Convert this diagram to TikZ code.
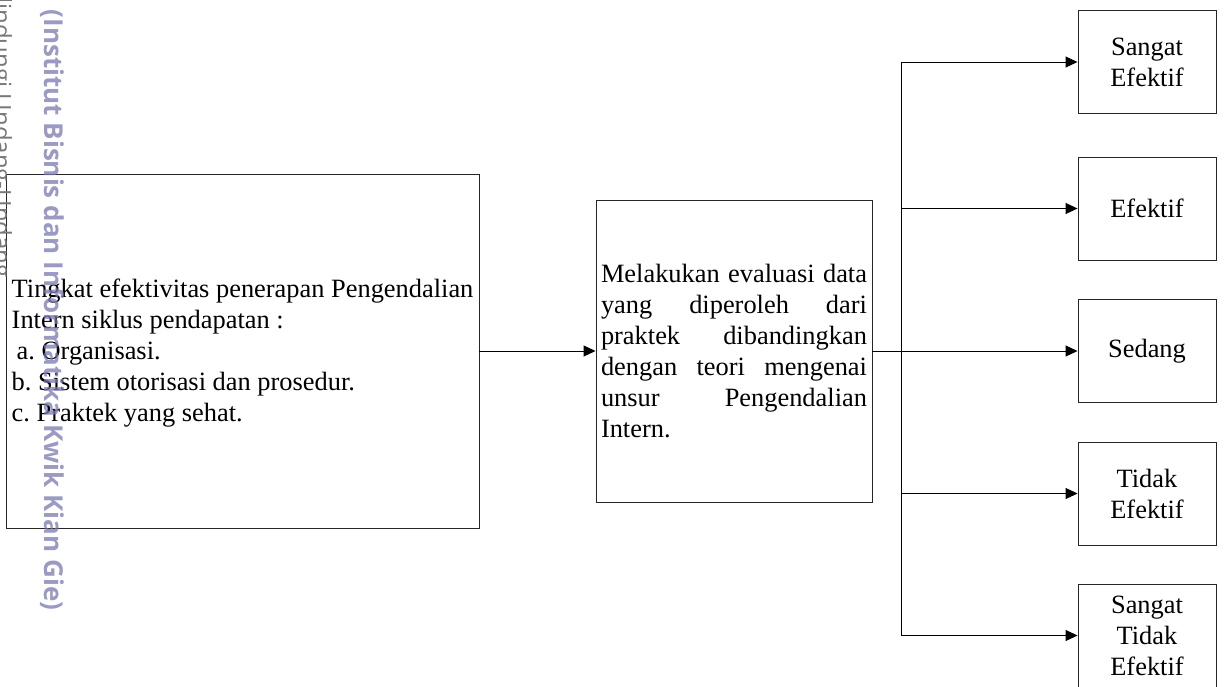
\documentclass[tikz,border=0pt]{standalone}
\usepackage{fontspec}
\setmainfont{Liberation Serif}
\newfontfamily\wmfont{Open Sans}
\usetikzlibrary{arrows.meta}
\definecolor{wmpurple}{RGB}{120,120,175}
\definecolor{wmgrey}{RGB}{120,120,120}
\frenchspacing
\begin{document}
\begin{tikzpicture}[x=1pt,y=-1pt,
  txt/.style={font=\fontsize{26.4}{31}\selectfont},
  box/.style={draw=black!85,line width=0.9pt,inner sep=0pt,txt},
  result/.style={box,minimum width=138pt,minimum height=103pt,align=center},
  link/.style={draw=black,line width=0.9pt},
  arr/.style={link,-{Triangle[length=12pt,width=11pt]}}]
\useasboundingbox (0,0) rectangle (1227,686);

% input: aspects of internal control
\node[box,minimum width=473pt,minimum height=354pt] (aspek) at (242.5,351) {};
\node[txt,anchor=west,align=left,inner sep=0pt] (aspektext)
  at ([xshift=6pt,yshift=-2pt]aspek.west)
  {Tingkat efektivitas penerapan Pengendalian\\
   Intern siklus pendapatan :\\
   \hspace*{5pt}a. Organisasi.\\
   b. Sistem otorisasi dan prosedur.\\
   c. Praktek yang sehat.};

% process: evaluation
\node[box,minimum width=276pt,minimum height=302pt,text width=266pt,align=justify]
  (eval) at (734,351)
  {Melakukan evaluasi data\linebreak
   yang diperoleh dari\linebreak
   praktek dibandingkan\linebreak
   dengan teori mengenai\linebreak
   unsur Pengendalian\linebreak
   Intern.};

% outcomes
\node[result] (r1) at (1147,62)    {Sangat\\Efektif};
\node[result] (r2) at (1147,208.5) {Efektif};
\node[result] (r3) at (1147,351)   {Sedang};
\node[result] (r4) at (1147,493.5) {Tidak\\Efektif};
\node[result] (r5) at (1147,635.5) {Sangat\\Tidak\\Efektif};

% connectors
\coordinate (split) at (901,351);
\draw[arr] (aspek.east) -- (eval.west);
\draw[link] (eval.east) -- (split);
\draw[link] (split |- r1.west) -- (split |- r5.west);
\foreach \r in {r1,r2,r3,r4,r5}
  \draw[arr] (split |- \r.west) -- (\r.west);

% side watermarks
\node[rotate=-90,anchor=base east,text=wmgrey,inner sep=0pt,
  font=\wmfont\fontsize{24}{24}\selectfont] (hak) at (-6,278)
  {Hak Cipta Dilindungi Undang-Undang};
\node[rotate=-90,text=wmpurple,opacity=0.75,inner sep=0pt,
  font=\wmfont\bfseries\fontsize{26}{26}\selectfont] (inst) at (52,310)
  {(Institut Bisnis dan Informatika Kwik Kian Gie)};
\end{tikzpicture}
\end{document}
